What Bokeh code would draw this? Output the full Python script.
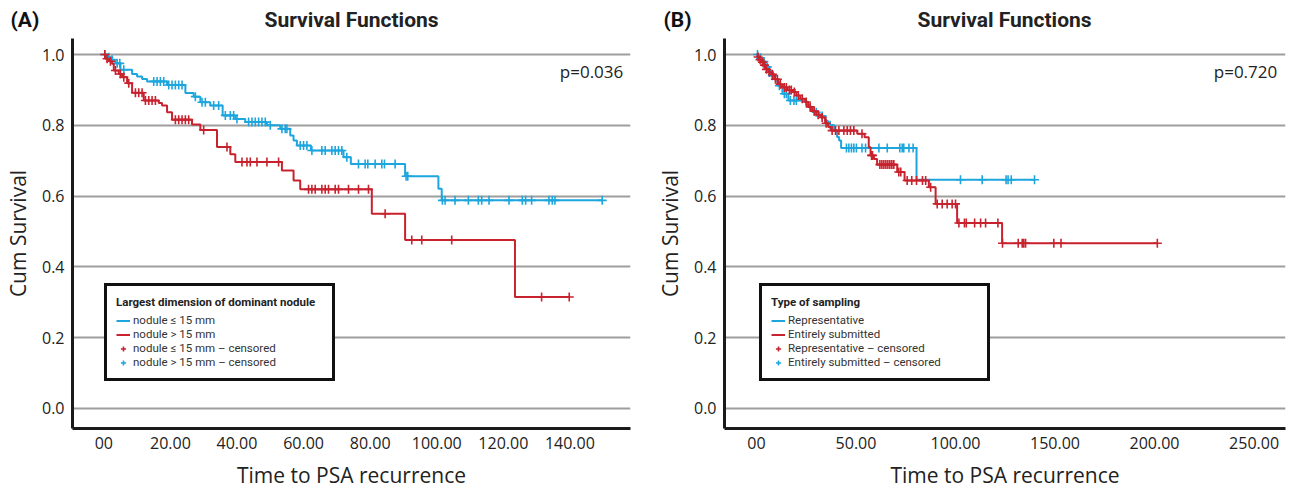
import numpy as np
from bokeh.plotting import figure
from bokeh.layouts import row, column
from bokeh.models import Range1d, FixedTicker, Label, Legend, LegendItem
from bokeh.core.properties import value
from bokeh.embed import file_html
from bokeh.resources import INLINE

# ---------------- Panel A: Largest dimension of dominant nodule ----------------
a_le15_event_t = [1.0, 2.0, 3.5, 5.0, 8.5, 10.0, 11.5, 13.0, 19.0, 24.5, 27.0, 29.0, 32.0, 35.7,
                  39.5, 42.5, 49.0, 53.0, 56.0, 57.0, 58.0, 62.2, 72.0, 74.2, 90.5, 100.5, 101.5]
a_le15_event_s = [0.992, 0.985, 0.975, 0.957, 0.945, 0.938, 0.931, 0.924, 0.914, 0.891, 0.881, 0.865,
                  0.856, 0.828, 0.818, 0.809, 0.800, 0.790, 0.771, 0.757, 0.743, 0.729, 0.710, 0.691,
                  0.656, 0.621, 0.588]
a_le15_censor_t = [0.3, 1.5, 2.5, 4.0, 4.8, 6.0, 15.0, 16.0, 17.0, 18.0, 19.5, 20.5, 21.5, 22.5, 23.5,
                   27.5, 29.5, 30.5, 33.0, 34.5, 36.5, 38.0, 39.0, 40.0, 43.5, 44.5, 45.5, 46.5, 47.5,
                   48.5, 50.0, 53.5, 54.5, 55.0, 59.0, 60.0, 61.0, 62.5, 65.5, 66.5, 68.5, 69.5, 70.5,
                   71.5, 73.0, 76.5, 78.5, 79.3, 81.5, 83.5, 84.3, 87.5, 90.8, 91.3, 101.7, 102.5,
                   105.5, 109.5, 112.5, 113.5, 115.7, 121.7, 125.7, 126.7, 128.5, 133.7, 134.7, 135.5,
                   149.7]

a_gt15_event_t = [0.5, 1.5, 2.5, 3.0, 4.5, 5.5, 7.0, 8.5, 12.0, 16.5, 17.5, 19.0, 20.5, 26.5, 29.0,
                  34.0, 38.0, 39.5, 53.5, 57.0, 59.0, 80.5, 90.5, 123.5]
a_gt15_event_s = [0.988, 0.981, 0.974, 0.955, 0.945, 0.936, 0.919, 0.892, 0.870, 0.863, 0.856, 0.837,
                  0.816, 0.802, 0.787, 0.739, 0.718, 0.696, 0.672, 0.644, 0.619, 0.550, 0.476, 0.315]
a_gt15_censor_t = [0.3, 1.0, 2.0, 3.5, 5.0, 6.0, 7.5, 9.5, 10.5, 11.5, 12.5, 13.5, 14.5, 15.5, 21.5,
                   22.5, 23.5, 24.5, 25.5, 30.0, 37.0, 41.5, 43.0, 44.0, 46.0, 49.0, 52.5, 61.5, 62.5,
                   63.5, 65.5, 66.5, 67.5, 69.5, 70.5, 73.5, 76.5, 79.5, 84.5, 92.5, 95.5, 104.5, 131.5,
                   139.8]

a_xticks = [0, 20, 40, 60, 80, 100, 120, 140]
a_xlabels = ["00", "20.00", "40.00", "60.00", "80.00", "100.00", "120.00", "140.00"]
a_pvalue = "p=0.036"
a_labels = ["nodule \u2264 15 mm", "nodule > 15 mm",
            "nodule \u2264 15 mm \u2013 censored", "nodule > 15 mm \u2013 censored"]
a_legend_title = "Largest dimension of dominant nodule"

# ---------------- Panel B: Type of sampling ----------------
b_rep_event_t = [1.0, 2.5, 4.5, 6.0, 7.5, 9.0, 10.5, 13.0, 16.0, 25.0, 27.0, 28.5, 31.5, 34.5, 36.0,
                 39.0, 40.5, 41.5, 42.5, 80.4]
b_rep_event_s = [0.990, 0.980, 0.965, 0.955, 0.940, 0.930, 0.912, 0.889, 0.870, 0.858, 0.845, 0.837,
                 0.826, 0.812, 0.800, 0.785, 0.767, 0.757, 0.736, 0.646]
b_rep_censor_t = [0.5, 2.0, 3.7, 5.4, 8.0, 11.5, 14.0, 15.0, 17.0, 18.8, 20.0, 30.0, 33.0, 37.0, 45.2,
                  46.4, 47.7, 48.9, 50.2, 53.0, 54.8, 61.5, 65.7, 72.0, 73.2, 74.0, 76.6, 78.7, 102.5,
                  113.4, 125.4, 126.4, 128.0, 139.7]

b_ent_event_t = [0.5, 1.5, 2.5, 3.5, 4.5, 6.0, 7.5, 9.0, 11.0, 13.0, 15.5, 18.0, 20.0, 22.0, 24.5,
                 26.0, 28.0, 30.0, 32.5, 34.5, 36.0, 37.5, 50.6, 54.3, 56.4, 57.3, 59.0, 60.6, 70.7,
                 74.4, 86.6, 90.0, 100.8, 123.4]
b_ent_event_s = [0.993, 0.985, 0.978, 0.970, 0.958, 0.950, 0.944, 0.930, 0.916, 0.907, 0.900, 0.894,
                 0.884, 0.875, 0.866, 0.852, 0.840, 0.830, 0.822, 0.806, 0.795, 0.785, 0.776, 0.766,
                 0.738, 0.715, 0.705, 0.689, 0.668, 0.644, 0.625, 0.578, 0.524, 0.467]
b_ent_censor_t = [0.8, 1.8, 3.0, 4.0, 5.0, 6.5, 8.0, 9.5, 10.5, 12.0, 14.0, 15.0, 16.5, 17.5, 19.0,
                  21.0, 23.0, 25.0, 27.0, 29.0, 31.0, 33.0, 35.0, 38.0, 39.7, 41.4, 43.9, 45.6, 47.2,
                  48.9, 53.0, 57.8, 58.3, 62.0, 63.0, 64.0, 65.0, 66.0, 67.0, 68.0, 69.0, 71.5, 72.5,
                  75.7, 78.0, 80.4, 83.4, 85.0, 87.5, 90.8, 93.3, 95.8, 98.3, 100.0, 101.7, 104.5,
                  105.4, 109.6, 112.6, 115.1, 121.3, 123.6, 131.5, 133.5, 134.3, 135.2, 149.4, 153.0,
                  201.4]

b_xticks = [0, 50, 100, 150, 200, 250]
b_xlabels = ["00", "50.00", "100.00", "150.00", "200.00", "250.00"]
b_pvalue = "p=0.720"
b_labels = ["Representative", "Entirely submitted",
            "Representative \u2013 censored", "Entirely submitted \u2013 censored"]
b_legend_title = "Type of sampling"

y_ticks = [0.0, 0.2, 0.4, 0.6, 0.8, 1.0]
y_labels = ["0.0", "0.2", "0.4", "0.6", "0.8", "1.0"]
chart_title = "Survival Functions"

BLUE = "#1DA6DD"
RED = "#C8222E"
FONT = "Open Sans"
TFONT = "Roboto"
LFONT = "Roboto"


def step_xy(ev_t, ev_s, c_t):
    end = max(max(c_t), ev_t[-1])
    x = [0.0] + list(ev_t) + [end]
    y = [1.0] + list(ev_s) + [ev_s[-1]]
    return x, y


def censor_s(ev_t, ev_s, c_t):
    idx = np.searchsorted(np.array(ev_t), np.array(c_t), side="right")
    s = np.concatenate([[1.0], np.array(ev_s)])
    return list(s[idx])


def make_header(width, tag, tag_x, title_x):
    h = figure(frame_width=width, frame_height=38, x_range=Range1d(0, width), y_range=Range1d(38, 0),
               output_backend="svg", toolbar_location=None, title=None,
               x_axis_type=None, y_axis_type=None,
               min_border_left=0, min_border_right=0, min_border_top=0, min_border_bottom=0)
    h.outline_line_color = None
    h.text(x=[tag_x], y=[19], text=[tag], text_align="left", text_baseline="middle",
           text_font=value(TFONT), text_font_style="bold", text_font_size="21px",
           text_color="#111111")
    h.text(x=[title_x], y=[19], text=[chart_title], text_align="center", text_baseline="middle",
           text_font=value(TFONT), text_font_style="bold", text_font_size="21px",
           text_color="#222222")
    return h


def make_panel(fw, bl, br, xr, xticks, xlabels, pval, pval_x, c1, c2, labels, leg_title, leg_x):
    p = figure(frame_width=fw, frame_height=390, x_range=Range1d(*xr),
               y_range=Range1d(-0.0565, 1.0452),
               output_backend="svg", toolbar_location=None, title=None,
               min_border_left=bl, min_border_right=br, min_border_top=0, min_border_bottom=63)
    p.outline_line_color = None
    p.background_fill_color = "white"
    p.border_fill_color = "white"

    p.xgrid.grid_line_color = None
    p.ygrid.grid_line_color = "#9e9e9e"
    p.ygrid.grid_line_width = 2
    p.ygrid.ticker = FixedTicker(ticks=y_ticks)

    for ax in (p.xaxis[0], p.yaxis[0]):
        ax.axis_line_width = 3
        ax.axis_line_color = "#1a1a1a"
        ax.major_tick_line_color = None
        ax.minor_tick_line_color = None
        ax.major_tick_out = 0
        ax.major_tick_in = 0
        ax.major_label_text_font = FONT
        ax.major_label_text_font_size = "16px"
        ax.major_label_text_color = "#222222"
        ax.axis_label_text_font = FONT
        ax.axis_label_text_font_size = "21px"
        ax.axis_label_text_font_style = "normal"
        ax.axis_label_text_color = "#222222"

    p.xaxis[0].ticker = FixedTicker(ticks=xticks)
    p.xaxis[0].major_label_overrides = {t: l for t, l in zip(xticks, xlabels)}
    p.xaxis[0].axis_label = "Time to PSA recurrence"
    p.xaxis[0].major_label_standoff = 8
    p.xaxis[0].axis_label_standoff = 9
    p.yaxis[0].ticker = FixedTicker(ticks=y_ticks)
    p.yaxis[0].major_label_overrides = {t: l for t, l in zip(y_ticks, y_labels)}
    p.yaxis[0].axis_label = "Cum Survival"
    p.yaxis[0].major_label_standoff = 8
    p.yaxis[0].axis_label_standoff = 7

    rend = []
    for (ev_t, ev_s, c_t), col in ((c1, BLUE), (c2, RED)):
        x, y = step_xy(ev_t, ev_s, c_t)
        r_line = p.step(x, y, mode="after", line_color=col, line_width=2)
        r_cens = p.scatter(c_t, censor_s(ev_t, ev_s, c_t), marker="cross", size=9,
                           line_color=col, line_width=1.6)
        rend.append((r_line, r_cens))

    leg = Legend(items=[LegendItem(label=labels[0], renderers=[rend[0][0]]),
                        LegendItem(label=labels[1], renderers=[rend[1][0]]),
                        LegendItem(label=labels[2], renderers=[rend[1][1]]),
                        LegendItem(label=labels[3], renderers=[rend[0][1]])],
                 title=leg_title, location=(leg_x, 47))
    leg.title_text_font = LFONT
    leg.title_text_font_size = "11.5px"
    leg.title_text_font_style = "bold"
    leg.title_text_color = "#222222"
    leg.title_standoff = 4
    leg.label_text_font = LFONT
    leg.label_text_font_size = "11.5px"
    leg.label_text_color = "#333333"
    leg.border_line_color = "#111111"
    leg.border_line_alpha = 1.0
    leg.border_line_width = 3
    leg.background_fill_color = "white"
    leg.background_fill_alpha = 1.0
    leg.padding = 9
    leg.spacing = 0
    leg.margin = 0
    leg.glyph_width = 14
    leg.glyph_height = 13
    leg.label_height = 13
    leg.label_standoff = 3
    leg.label_width = 190
    p.add_layout(leg, "center")

    p.add_layout(Label(x=pval_x, y=0.952, text=pval, text_align="center", text_baseline="middle",
                       text_font=FONT, text_font_size="17px", text_color="#222222"))
    return p


hA = make_header(640, "(A)", 10, 351)
hB = make_header(650, "(B)", 23, 364)

pA = make_panel(558, 72, 10, (-9.4, 158.2), a_xticks, a_xlabels, a_pvalue, 146.5,
                (a_le15_event_t, a_le15_event_s, a_le15_censor_t),
                (a_gt15_event_t, a_gt15_event_s, a_gt15_censor_t),
                a_labels, a_legend_title, 32)
pB = make_panel(561, 84, 5, (-16.08, 265.8), b_xticks, b_xlabels, b_pvalue, 245.7,
                (b_rep_event_t, b_rep_event_s, b_rep_censor_t),
                (b_ent_event_t, b_ent_event_s, b_ent_censor_t),
                b_labels, b_legend_title, 35)

layout = column(row(hA, hB), row(pA, pB))
open("out.html", "w").write(file_html(layout, INLINE))
